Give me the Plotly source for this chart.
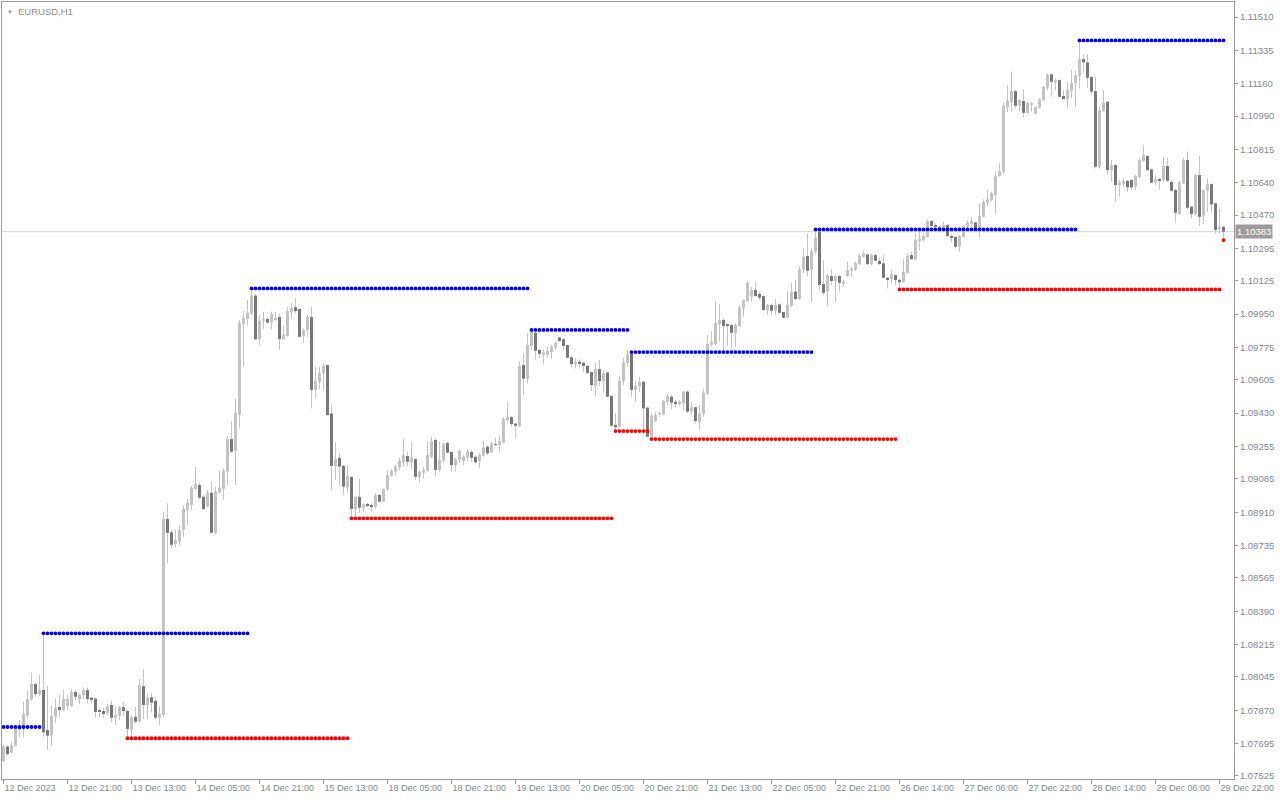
import plotly.graph_objects as go

# ---------------- data (EURUSD H1, bars 0..305) ----------------
open_ = [
1.07604, 1.07679, 1.07647, 1.07684, 1.07787, 1.07775, 1.07842, 1.07928, 1.08008, 1.07955,
1.07976, 1.07766, 1.07737, 1.07836, 1.07887, 1.07871, 1.07892, 1.07892, 1.07966, 1.07929,
1.07950, 1.07976, 1.07936, 1.07931, 1.07871, 1.07866, 1.07857, 1.07898, 1.07831, 1.07840,
1.07886, 1.07866, 1.07766, 1.07836, 1.07810, 1.07997, 1.07898, 1.07938, 1.07919, 1.07831,
1.07845, 1.08874, 1.08804, 1.08743, 1.08755, 1.08817, 1.08922, 1.08948, 1.09032, 1.09053,
1.08991, 1.08939, 1.09012, 1.08802, 1.09012, 1.09033, 1.09123, 1.09294, 1.09231, 1.09420,
1.09898, 1.09924, 1.09951, 1.10047, 1.09819, 1.09914, 1.09924, 1.09907, 1.09919, 1.09935,
1.09819, 1.09835, 1.09959, 1.09987, 1.09977, 1.09835, 1.09867, 1.09935, 1.09552, 1.09595,
1.09639, 1.09683, 1.09429, 1.09153, 1.09195, 1.09153, 1.09041, 1.09096, 1.08927, 1.08991,
1.08934, 1.08948, 1.08948, 1.08939, 1.09000, 1.08965, 1.09032, 1.09102, 1.09123, 1.09144,
1.09170, 1.09205, 1.09170, 1.09189, 1.09096, 1.09117, 1.09128, 1.09201, 1.09289, 1.09132,
1.09179, 1.09273, 1.09226, 1.09158, 1.09184, 1.09179, 1.09198, 1.09226, 1.09201, 1.09179,
1.09207, 1.09254, 1.09224, 1.09268, 1.09263, 1.09275, 1.09394, 1.09410, 1.09375, 1.09364,
1.09683, 1.09609, 1.09783, 1.09852, 1.09762, 1.09735, 1.09737, 1.09751, 1.09774, 1.09828,
1.09818, 1.09788, 1.09723, 1.09688, 1.09700, 1.09695, 1.09678, 1.09646, 1.09574, 1.09662,
1.09599, 1.09644, 1.09520, 1.09368, 1.09359, 1.09599, 1.09695, 1.09744, 1.09552, 1.09569,
1.09595, 1.09459, 1.09306, 1.09389, 1.09426, 1.09424, 1.09490, 1.09516, 1.09490, 1.09482,
1.09482, 1.09543, 1.09438, 1.09461, 1.09385, 1.09426, 1.09531, 1.09789, 1.09793, 1.09898,
1.09919, 1.09893, 1.09893, 1.09852, 1.09888, 1.09980, 1.10020, 1.10041, 1.10077, 1.10056,
1.10045, 1.09972, 1.09998, 1.09968, 1.10001, 1.09961, 1.09931, 1.09993, 1.10068, 1.10029,
1.10182, 1.10255, 1.10182, 1.10278, 1.10383, 1.10108, 1.10068, 1.10150, 1.10124, 1.10150,
1.10108, 1.10150, 1.10178, 1.10182, 1.10213, 1.10251, 1.10264, 1.10213, 1.10260, 1.10229,
1.10217, 1.10141, 1.10134, 1.10155, 1.10129, 1.10120, 1.10167, 1.10260, 1.10238, 1.10334,
1.10339, 1.10356, 1.10439, 1.10418, 1.10409, 1.10400, 1.10418, 1.10360, 1.10356, 1.10304,
1.10356, 1.10409, 1.10423, 1.10432, 1.10400, 1.10461, 1.10535, 1.10549, 1.10575, 1.10675,
1.10698, 1.11034, 1.11062, 1.11121, 1.11044, 1.11069, 1.11007, 1.11053, 1.11004, 1.11034,
1.11074, 1.11139, 1.11209, 1.11167, 1.11179, 1.11095, 1.11079, 1.11123, 1.11162, 1.11202,
1.11289, 1.11272, 1.11196, 1.11121, 1.10724, 1.11018, 1.11065, 1.10706, 1.10733, 1.10633,
1.10633, 1.10650, 1.10654, 1.10619, 1.10671, 1.10754, 1.10780, 1.10710, 1.10642, 1.10659,
1.10654, 1.10728, 1.10644, 1.10602, 1.10476, 1.10637, 1.10759, 1.10514, 1.10476, 1.10680,
1.10467, 1.10598, 1.10633, 1.10532, 1.10395, 1.10409,
]

high = [
1.07688, 1.07686, 1.07705, 1.07784, 1.07819, 1.07915, 1.07976, 1.08067, 1.08015, 1.08055,
1.08274, 1.07997, 1.07892, 1.07933, 1.07950, 1.07980, 1.07954, 1.07980, 1.07976, 1.07959,
1.07991, 1.07989, 1.07941, 1.07935, 1.07884, 1.07884, 1.07901, 1.07920, 1.07889, 1.07892,
1.07915, 1.07871, 1.07845, 1.07889, 1.08034, 1.08087, 1.07959, 1.07959, 1.07941, 1.07892,
1.08913, 1.08957, 1.08817, 1.08817, 1.08843, 1.08948, 1.08978, 1.09048, 1.09149, 1.09065,
1.09000, 1.09027, 1.09074, 1.09044, 1.09128, 1.09140, 1.09310, 1.09389, 1.09508, 1.09919,
1.09966, 1.10024, 1.10085, 1.10056, 1.09945, 1.09963, 1.09933, 1.09963, 1.09961, 1.09951,
1.09888, 1.09989, 1.10007, 1.10033, 1.09980, 1.09875, 1.09945, 1.09989, 1.09674, 1.09674,
1.09692, 1.09686, 1.09476, 1.09280, 1.09222, 1.09158, 1.09158, 1.09096, 1.08991, 1.09084,
1.08957, 1.08960, 1.08957, 1.09012, 1.09006, 1.09035, 1.09132, 1.09135, 1.09158, 1.09198,
1.09294, 1.09228, 1.09280, 1.09193, 1.09132, 1.09149, 1.09280, 1.09306, 1.09298, 1.09280,
1.09277, 1.09280, 1.09228, 1.09196, 1.09240, 1.09210, 1.09242, 1.09237, 1.09210, 1.09222,
1.09284, 1.09259, 1.09280, 1.09298, 1.09312, 1.09411, 1.09490, 1.09415, 1.09377, 1.09705,
1.09744, 1.09851, 1.09867, 1.09858, 1.09770, 1.09765, 1.09779, 1.09788, 1.09805, 1.09831,
1.09823, 1.09791, 1.09730, 1.09718, 1.09713, 1.09700, 1.09683, 1.09648, 1.09695, 1.09709,
1.09657, 1.09648, 1.09525, 1.09429, 1.09621, 1.09718, 1.09762, 1.09753, 1.09600, 1.09621,
1.09600, 1.09464, 1.09429, 1.09438, 1.09438, 1.09499, 1.09531, 1.09525, 1.09499, 1.09499,
1.09548, 1.09548, 1.09490, 1.09464, 1.09473, 1.09560, 1.09840, 1.09861, 1.10020, 1.10003,
1.09928, 1.09902, 1.09898, 1.09902, 1.09998, 1.10028, 1.10124, 1.10094, 1.10120, 1.10068,
1.10048, 1.10003, 1.10007, 1.10029, 1.10007, 1.09963, 1.10073, 1.10115, 1.10129, 1.10203,
1.10295, 1.10374, 1.10295, 1.10395, 1.10392, 1.10234, 1.10164, 1.10187, 1.10155, 1.10155,
1.10129, 1.10225, 1.10199, 1.10225, 1.10269, 1.10281, 1.10269, 1.10269, 1.10269, 1.10248,
1.10260, 1.10146, 1.10182, 1.10159, 1.10138, 1.10238, 1.10272, 1.10278, 1.10374, 1.10400,
1.10374, 1.10448, 1.10444, 1.10427, 1.10418, 1.10435, 1.10423, 1.10365, 1.10356, 1.10365,
1.10418, 1.10444, 1.10461, 1.10435, 1.10532, 1.10553, 1.10602, 1.10593, 1.10698, 1.10742,
1.11060, 1.11153, 1.11223, 1.11127, 1.11079, 1.11132, 1.11065, 1.11065, 1.11039, 1.11083,
1.11148, 1.11214, 1.11214, 1.11188, 1.11183, 1.11127, 1.11170, 1.11231, 1.11231, 1.11387,
1.11315, 1.11315, 1.11200, 1.11196, 1.11042, 1.11127, 1.11069, 1.10759, 1.10738, 1.10654,
1.10663, 1.10654, 1.10658, 1.10680, 1.10768, 1.10838, 1.10785, 1.10715, 1.10680, 1.10666,
1.10776, 1.10768, 1.10654, 1.10608, 1.10650, 1.10768, 1.10803, 1.10518, 1.10686, 1.10780,
1.10605, 1.10663, 1.10637, 1.10535, 1.10502, 1.10413,
]

low = [
1.07598, 1.07632, 1.07644, 1.07679, 1.07731, 1.07731, 1.07823, 1.07920, 1.07941, 1.07945,
1.07731, 1.07661, 1.07684, 1.07805, 1.07836, 1.07866, 1.07871, 1.07889, 1.07924, 1.07903,
1.07929, 1.07907, 1.07907, 1.07831, 1.07836, 1.07831, 1.07845, 1.07810, 1.07793, 1.07819,
1.07840, 1.07723, 1.07726, 1.07802, 1.07805, 1.07823, 1.07824, 1.07859, 1.07823, 1.07793,
1.07835, 1.08642, 1.08720, 1.08724, 1.08738, 1.08781, 1.08843, 1.08922, 1.09027, 1.08979,
1.08922, 1.08934, 1.08799, 1.08790, 1.09009, 1.08974, 1.09053, 1.09222, 1.09053, 1.09350,
1.09674, 1.09893, 1.09945, 1.09814, 1.09788, 1.09872, 1.09902, 1.09870, 1.09914, 1.09762,
1.09814, 1.09831, 1.09928, 1.09957, 1.09828, 1.09800, 1.09831, 1.09455, 1.09508, 1.09555,
1.09552, 1.09417, 1.09027, 1.09079, 1.09044, 1.09000, 1.09012, 1.08878, 1.08886, 1.08907,
1.08913, 1.08934, 1.08913, 1.08930, 1.08962, 1.08962, 1.09018, 1.09096, 1.09100, 1.09132,
1.09149, 1.09149, 1.09135, 1.09079, 1.09065, 1.09088, 1.09123, 1.09193, 1.09100, 1.09123,
1.09170, 1.09219, 1.09123, 1.09123, 1.09167, 1.09158, 1.09179, 1.09175, 1.09167, 1.09144,
1.09201, 1.09210, 1.09219, 1.09259, 1.09228, 1.09272, 1.09377, 1.09359, 1.09298, 1.09359,
1.09525, 1.09587, 1.09762, 1.09713, 1.09718, 1.09686, 1.09721, 1.09714, 1.09762, 1.09805,
1.09762, 1.09718, 1.09671, 1.09665, 1.09674, 1.09648, 1.09636, 1.09548, 1.09520, 1.09574,
1.09534, 1.09513, 1.09359, 1.09336, 1.09356, 1.09578, 1.09674, 1.09516, 1.09490, 1.09543,
1.09342, 1.09303, 1.09294, 1.09382, 1.09411, 1.09420, 1.09473, 1.09450, 1.09461, 1.09468,
1.09443, 1.09432, 1.09420, 1.09377, 1.09342, 1.09411, 1.09525, 1.09779, 1.09788, 1.09805,
1.09753, 1.09779, 1.09770, 1.09779, 1.09884, 1.09936, 1.10015, 1.10015, 1.10041, 1.10024,
1.09968, 1.09945, 1.09945, 1.09945, 1.09954, 1.09928, 1.09928, 1.09989, 1.10024, 1.10024,
1.10164, 1.10150, 1.10010, 1.10269, 1.10077, 1.10050, 1.09993, 1.10103, 1.10010, 1.10068,
1.10094, 1.10146, 1.10146, 1.10178, 1.10208, 1.10248, 1.10208, 1.10208, 1.10225, 1.10208,
1.10134, 1.10085, 1.10112, 1.10103, 1.10080, 1.10112, 1.10164, 1.10234, 1.10234, 1.10287,
1.10330, 1.10353, 1.10409, 1.10400, 1.10395, 1.10392, 1.10356, 1.10330, 1.10295, 1.10278,
1.10353, 1.10400, 1.10409, 1.10392, 1.10353, 1.10458, 1.10514, 1.10540, 1.10476, 1.10671,
1.10686, 1.11013, 1.11013, 1.11030, 1.11013, 1.10983, 1.11004, 1.11013, 1.10999, 1.11030,
1.11070, 1.11127, 1.11091, 1.11127, 1.11088, 1.11078, 1.11034, 1.11083, 1.11036, 1.11135,
1.11217, 1.11139, 1.11105, 1.10715, 1.10715, 1.11013, 1.10680, 1.10645, 1.10540, 1.10566,
1.10619, 1.10593, 1.10602, 1.10602, 1.10663, 1.10750, 1.10703, 1.10637, 1.10628, 1.10605,
1.10645, 1.10645, 1.10593, 1.10430, 1.10470, 1.10633, 1.10502, 1.10453, 1.10470, 1.10413,
1.10423, 1.10488, 1.10482, 1.10374, 1.10377, 1.10335,
]

close = [
1.07679, 1.07640, 1.07688, 1.07775, 1.07770, 1.07850, 1.07929, 1.08008, 1.07955, 1.07976,
1.07754, 1.07737, 1.07840, 1.07884, 1.07871, 1.07929, 1.07929, 1.07966, 1.07941, 1.07952,
1.07976, 1.07929, 1.07924, 1.07861, 1.07861, 1.07850, 1.07892, 1.07831, 1.07845, 1.07886,
1.07866, 1.07772, 1.07833, 1.07810, 1.08003, 1.07898, 1.07938, 1.07910, 1.07831, 1.07850,
1.08874, 1.08802, 1.08739, 1.08764, 1.08817, 1.08927, 1.08960, 1.09039, 1.09058, 1.08986,
1.08927, 1.09012, 1.08802, 1.09018, 1.09039, 1.09128, 1.09294, 1.09228, 1.09434, 1.09905,
1.09931, 1.09957, 1.10047, 1.09819, 1.09915, 1.09924, 1.09905, 1.09951, 1.09931, 1.09819,
1.09840, 1.09966, 1.09984, 1.09966, 1.09831, 1.09867, 1.09936, 1.09552, 1.09599, 1.09642,
1.09679, 1.09420, 1.09153, 1.09189, 1.09149, 1.09044, 1.09100, 1.08927, 1.08991, 1.08934,
1.08951, 1.08944, 1.08939, 1.09000, 1.08965, 1.09032, 1.09105, 1.09126, 1.09149, 1.09179,
1.09210, 1.09175, 1.09196, 1.09096, 1.09123, 1.09132, 1.09210, 1.09284, 1.09132, 1.09184,
1.09270, 1.09222, 1.09158, 1.09189, 1.09231, 1.09201, 1.09231, 1.09196, 1.09172, 1.09210,
1.09249, 1.09219, 1.09272, 1.09264, 1.09284, 1.09399, 1.09411, 1.09373, 1.09364, 1.09678,
1.09611, 1.09788, 1.09858, 1.09758, 1.09741, 1.09749, 1.09758, 1.09779, 1.09800, 1.09809,
1.09783, 1.09721, 1.09688, 1.09700, 1.09688, 1.09678, 1.09642, 1.09578, 1.09662, 1.09599,
1.09639, 1.09516, 1.09364, 1.09357, 1.09599, 1.09695, 1.09739, 1.09552, 1.09574, 1.09595,
1.09455, 1.09306, 1.09417, 1.09420, 1.09429, 1.09494, 1.09520, 1.09485, 1.09480, 1.09490,
1.09543, 1.09438, 1.09461, 1.09389, 1.09429, 1.09537, 1.09793, 1.09805, 1.09905, 1.09919,
1.09888, 1.09888, 1.09852, 1.09893, 1.09986, 1.10024, 1.10115, 1.10077, 1.10045, 1.10036,
1.09972, 1.09998, 1.09968, 1.09998, 1.09957, 1.09931, 1.09998, 1.10068, 1.10029, 1.10187,
1.10251, 1.10178, 1.10281, 1.10351, 1.10103, 1.10062, 1.10150, 1.10124, 1.10150, 1.10115,
1.10120, 1.10182, 1.10187, 1.10217, 1.10257, 1.10269, 1.10213, 1.10260, 1.10230, 1.10213,
1.10141, 1.10134, 1.10160, 1.10129, 1.10117, 1.10173, 1.10255, 1.10239, 1.10339, 1.10344,
1.10360, 1.10439, 1.10413, 1.10409, 1.10400, 1.10418, 1.10360, 1.10351, 1.10304, 1.10360,
1.10414, 1.10430, 1.10439, 1.10400, 1.10465, 1.10540, 1.10553, 1.10587, 1.10675, 1.10701,
1.11044, 1.11069, 1.11121, 1.11044, 1.11074, 1.11007, 1.11060, 1.11060, 1.11039, 1.11079,
1.11144, 1.11209, 1.11170, 1.11179, 1.11091, 1.11079, 1.11127, 1.11165, 1.11205, 1.11289,
1.11272, 1.11191, 1.11118, 1.10724, 1.11021, 1.11060, 1.10706, 1.10733, 1.10628, 1.10640,
1.10650, 1.10616, 1.10616, 1.10677, 1.10759, 1.10785, 1.10706, 1.10640, 1.10659, 1.10654,
1.10728, 1.10650, 1.10598, 1.10482, 1.10642, 1.10759, 1.10509, 1.10476, 1.10680, 1.10461,
1.10602, 1.10633, 1.10526, 1.10392, 1.10406, 1.10383,
]

bars = list(range(len(close)))

# fractal resistance (blue) / support (red) levels: (first bar, last bar, price)
resistance_levels = [
    (0, 9, 1.07782), (10, 61, 1.08274), (62, 131, 1.10085), (132, 156, 1.09867),
    (157, 202, 1.09751), (203, 268, 1.10395), (269, 305, 1.11387),
]
support_levels = [
    (31, 86, 1.07723), (87, 152, 1.08878), (153, 161, 1.09336), (162, 223, 1.09294),
    (224, 304, 1.10080), (305, 305, 1.10339),
]

last_price = 1.10383
symbol_title = "EURUSD,H1"

x_tick_bars = [0, 16, 32, 48, 64, 80, 96, 112, 128, 144, 160, 176, 192, 208, 224, 240, 256, 272, 288, 304]
x_tick_labels = ["12 Dec 2023", "12 Dec 21:00", "13 Dec 13:00", "14 Dec 05:00", "14 Dec 21:00",
                 "15 Dec 13:00", "18 Dec 05:00", "18 Dec 21:00", "19 Dec 13:00", "20 Dec 05:00",
                 "20 Dec 21:00", "21 Dec 13:00", "22 Dec 05:00", "22 Dec 21:00", "26 Dec 14:00",
                 "27 Dec 06:00", "27 Dec 22:00", "28 Dec 14:00", "29 Dec 06:00", "29 Dec 22:00"]
y_tick_values = [1.11510, 1.11335, 1.11160, 1.10990, 1.10815, 1.10640, 1.10470, 1.10295,
                 1.10125, 1.09950, 1.09775, 1.09605, 1.09430, 1.09255, 1.09085, 1.08910,
                 1.08735, 1.08565, 1.08390, 1.08215, 1.08045, 1.07870, 1.07695, 1.07525]

# ---------------- styling ----------------
BULL = "#c3c3c3"
BEAR = "#787878"
WICK = "#c3c3c3"
FRAME = "#9a9a9a"
TXT = "#7d8696"
FONT = "Liberation Sans, Arial, sans-serif"
MIN_BODY = 0.00004

fig = go.Figure()

# wicks
fig.add_trace(go.Bar(
    x=bars, base=low, y=[h - l for h, l in zip(high, low)],
    width=0.25, marker=dict(color=WICK, line=dict(width=0)),
    hoverinfo="skip", showlegend=False))

# bodies
for is_bull, col in ((True, BULL), (False, BEAR)):
    xs, bs, hs = [], [], []
    for b, o, c in zip(bars, open_, close):
        if (c >= o) == is_bull:
            xs.append(b)
            bs.append(min(o, c))
            hs.append(max(abs(c - o), MIN_BODY))
    fig.add_trace(go.Bar(
        x=xs, base=bs, y=hs, width=0.75,
        marker=dict(color=col, line=dict(width=0)),
        hoverinfo="skip", showlegend=False))

# fractal dots
for levels, col in ((resistance_levels, "#0000ff"), (support_levels, "#ff0000")):
    xs, ys = [], []
    for first, last, price in levels:
        for b in range(first, last + 1):
            xs.append(b)
            ys.append(price)
    fig.add_trace(go.Scatter(
        x=xs, y=ys, mode="markers",
        marker=dict(color=col, size=3.8, symbol="circle", line=dict(width=0)),
        hoverinfo="skip", showlegend=False))

fig.update_layout(
    width=1280, height=800,
    margin=dict(l=2, r=46, t=2, b=21, autoexpand=False),
    paper_bgcolor="#ffffff", plot_bgcolor="#ffffff",
    barmode="overlay", showlegend=False,
    font=dict(family=FONT, size=9, color=TXT),
    xaxis=dict(
        range=[-0.375, 307.625], tickmode="array",
        tickvals=x_tick_bars, ticktext=x_tick_labels,
        ticks="outside", ticklen=4, tickcolor=FRAME, tickwidth=1,
        ticklabelposition="outside right", automargin=False,
        showline=True, linecolor=FRAME, linewidth=1, mirror=True,
        showgrid=False, zeroline=False,
        tickfont=dict(family=FONT, size=9, color=TXT)),
    yaxis=dict(
        range=[1.07509, 1.11589], side="right", tickmode="array",
        tickvals=y_tick_values, tickformat=".5f", automargin=False,
        ticks="outside", ticklen=3, tickcolor=FRAME, tickwidth=1,
        showline=True, linecolor=FRAME, linewidth=1, mirror=True,
        showgrid=False, zeroline=False,
        tickfont=dict(family=FONT, size=9.5, color=TXT)),
    shapes=[dict(type="line", xref="paper", x0=0, x1=1, yref="y",
                 y0=last_price, y1=last_price,
                 line=dict(color="#d4d4d4", width=1), layer="below")],
    annotations=[
        dict(xref="paper", yref="y", x=1, y=last_price, xanchor="left", yanchor="middle",
             text=f"{last_price:.5f}", showarrow=False, xshift=1,
             bgcolor="#9c9c9c", borderpad=1,
             font=dict(family=FONT, size=9.5, color="#ffffff")),
        dict(xref="paper", yref="paper", x=0, y=1, xanchor="left", yanchor="top",
             text="▼", showarrow=False, xshift=3, yshift=-5,
             font=dict(family=FONT, size=6, color="#8c8c8c")),
        dict(xref="paper", yref="paper", x=0, y=1, xanchor="left", yanchor="top",
             text=symbol_title, showarrow=False, xshift=14, yshift=-2,
             font=dict(family=FONT, size=9.5, color="#8c8c8c")),
    ],
)

fig.write_html(
    "out.html",
    config={"displayModeBar": False},
    post_script="document.body.style.margin='0px';document.body.style.padding='0px';",
)
